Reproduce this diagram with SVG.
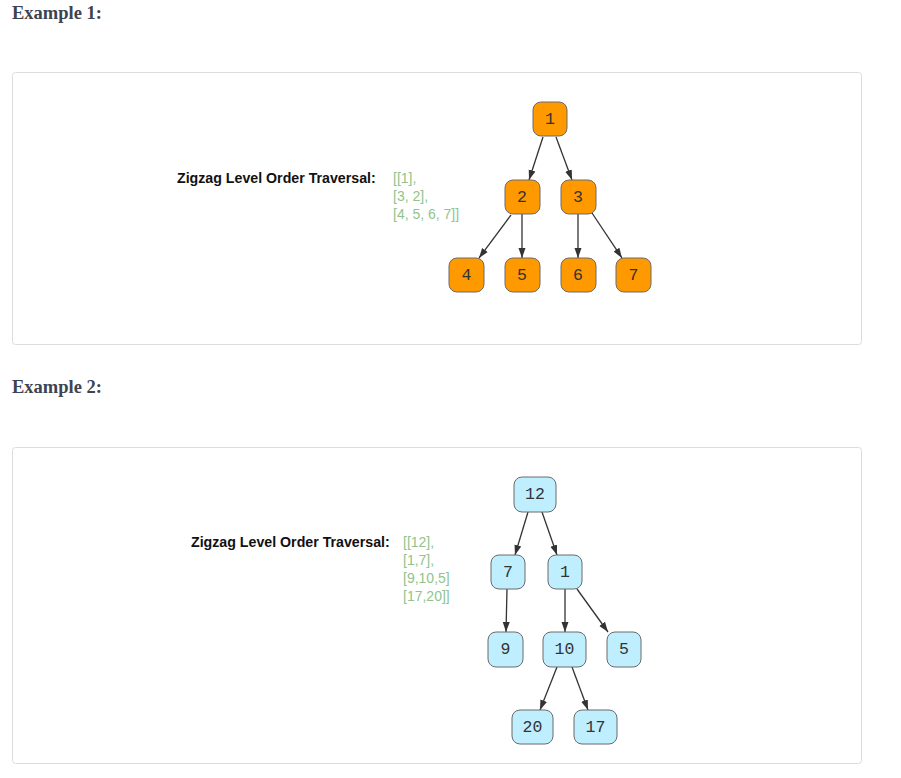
<svg xmlns="http://www.w3.org/2000/svg" width="901" height="778" viewBox="0 0 901 778">
<style>
.h{font-family:"Liberation Serif","Times New Roman",serif;font-weight:bold;font-size:18.5px;fill:#3d4451}
.panel{fill:#fff;stroke:#dcdcdc;stroke-width:1}
.lbl{font-family:"Liberation Sans",Arial,sans-serif;font-weight:bold;font-size:14.2px;fill:#111}
.res{font-family:"Liberation Sans",Arial,sans-serif;font-size:14px;fill:#90c48c}
.n1 rect{fill:#ff9900;stroke:#6b6b6b;stroke-width:1}
.n2 rect{fill:#bfefff;stroke:#6b6b6b;stroke-width:1}
.nt{font-family:"Liberation Mono","Courier New",monospace;font-size:16.5px;fill:#333;text-anchor:middle;dominant-baseline:central}
.e{stroke:#333;stroke-width:1.3;fill:none;marker-end:url(#arr)}
</style>
<defs>
<marker id="arr" viewBox="0 0 10 10" refX="10" refY="5" markerWidth="10" markerHeight="10" markerUnits="userSpaceOnUse" orient="auto">
<path d="M0,1.5 L10,5 L0,8.5 Z" fill="#333"/>
</marker>
</defs>
<rect width="901" height="778" fill="#fff"/>
<text class="h" x="12" y="19">Example 1:</text>
<text class="h" x="12" y="393">Example 2:</text>
<rect class="panel" x="12.5" y="72.5" width="849" height="272" rx="3"/>
<rect class="panel" x="12.5" y="447.5" width="849" height="316" rx="3"/>

<g id="label1">
<text class="lbl" x="177" y="183">Zigzag Level Order Traversal:</text>
<text class="res" x="393" y="183">[[1],</text>
<text class="res" x="393" y="201">[3, 2],</text>
<text class="res" x="393" y="219">[4, 5, 6, 7]]</text>
</g>
<g id="label2">
<text class="lbl" x="191" y="547">Zigzag Level Order Traversal:</text>
<text class="res" x="403" y="547">[[12],</text>
<text class="res" x="403" y="565">[1,7],</text>
<text class="res" x="403" y="583">[9,10,5]</text>
<text class="res" x="403" y="601">[17,20]]</text>
</g>

<g id="connectors">
<line class="e" x1="543" y1="137" x2="529" y2="180"/>
<line class="e" x1="556" y1="137" x2="572" y2="180"/>
<line class="e" x1="511" y1="215" x2="479" y2="258"/>
<line class="e" x1="522" y1="214" x2="522" y2="258"/>
<line class="e" x1="578" y1="214" x2="578" y2="258"/>
<line class="e" x1="592" y1="213" x2="622" y2="258"/>

<line class="e" x1="528" y1="512" x2="515" y2="555"/>
<line class="e" x1="542" y1="512" x2="557" y2="555"/>
<line class="e" x1="507" y1="589" x2="506" y2="632"/>
<line class="e" x1="565" y1="589" x2="565" y2="632"/>
<line class="e" x1="577" y1="589" x2="608" y2="632"/>
<line class="e" x1="557" y1="667" x2="540" y2="710"/>
<line class="e" x1="572" y1="667" x2="588" y2="710"/>
</g>

<g id="t1n1" class="n1"><rect x="533" y="102" width="34" height="34" rx="8"/><text class="nt" x="550" y="119">1</text></g>
<g id="t1n2" class="n1"><rect x="505" y="180" width="35" height="34" rx="8"/><text class="nt" x="522" y="197">2</text></g>
<g id="t1n3" class="n1"><rect x="561" y="180" width="35" height="34" rx="8"/><text class="nt" x="578" y="197">3</text></g>
<g id="t1n4" class="n1"><rect x="449" y="258" width="35" height="34" rx="8"/><text class="nt" x="466.5" y="275">4</text></g>
<g id="t1n5" class="n1"><rect x="505" y="258" width="35" height="34" rx="8"/><text class="nt" x="522" y="275">5</text></g>
<g id="t1n6" class="n1"><rect x="561" y="258" width="35" height="34" rx="8"/><text class="nt" x="578" y="275">6</text></g>
<g id="t1n7" class="n1"><rect x="616" y="258" width="35" height="34" rx="8"/><text class="nt" x="633.5" y="275">7</text></g>

<g id="t2n12" class="n2"><rect x="514" y="477" width="42" height="35" rx="8"/><text class="nt" x="535" y="494.5">12</text></g>
<g id="t2n7" class="n2"><rect x="491" y="555" width="34" height="34" rx="8"/><text class="nt" x="508" y="572">7</text></g>
<g id="t2n1" class="n2"><rect x="548" y="555" width="34" height="34" rx="8"/><text class="nt" x="565" y="572">1</text></g>
<g id="t2n9" class="n2"><rect x="488" y="632" width="35" height="35" rx="8"/><text class="nt" x="505.5" y="649.5">9</text></g>
<g id="t2n10" class="n2"><rect x="543" y="632" width="43" height="35" rx="8"/><text class="nt" x="564.5" y="649.5">10</text></g>
<g id="t2n5" class="n2"><rect x="607" y="632" width="34" height="35" rx="8"/><text class="nt" x="624" y="649.5">5</text></g>
<g id="t2n20" class="n2"><rect x="512" y="710" width="41" height="34" rx="8"/><text class="nt" x="532.5" y="727">20</text></g>
<g id="t2n17" class="n2"><rect x="574" y="710" width="43" height="34" rx="8"/><text class="nt" x="595.5" y="727">17</text></g>
</svg>
